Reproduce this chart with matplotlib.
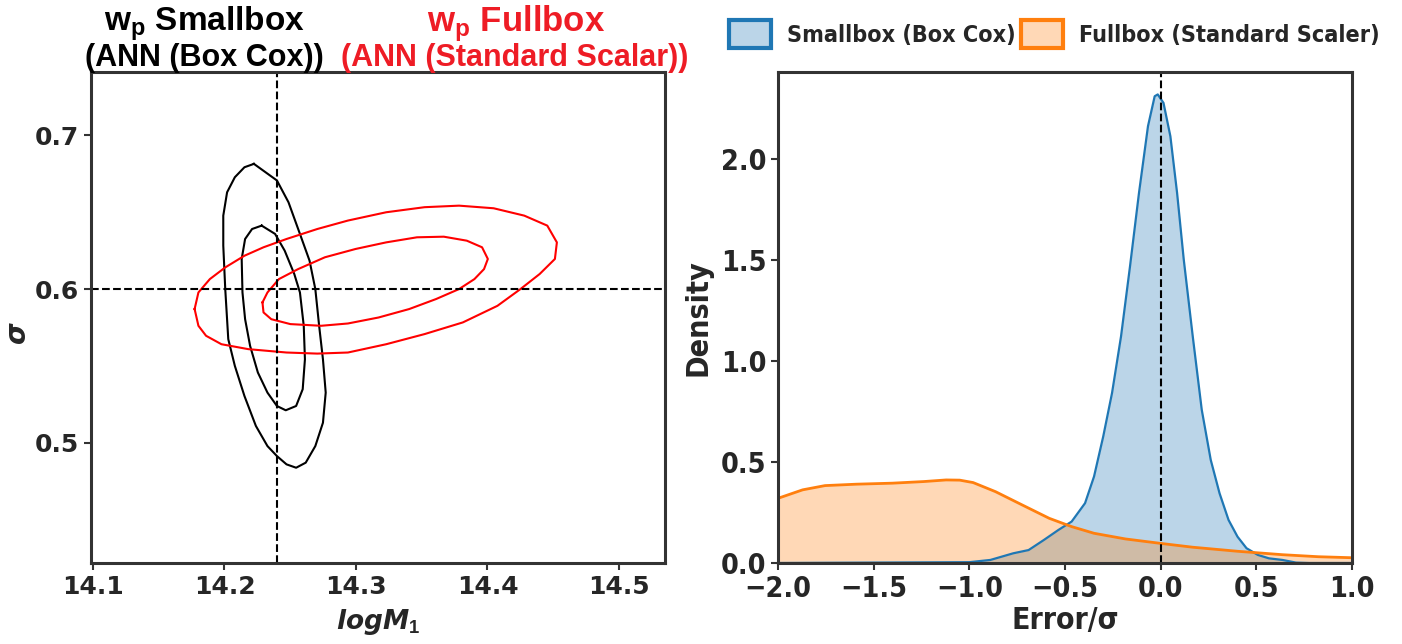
import os
import matplotlib
matplotlib.use("Agg")
import matplotlib.pyplot as plt
from matplotlib import font_manager
from matplotlib.patches import Patch
from matplotlib.textpath import TextPath

# 等高线轮廓 (logM1, sigma)，两个置信水平
small_outer_x = [14.2224, 14.2399, 14.2487, 14.2574, 14.2647, 14.2691, 14.2720, 14.2749, 14.2770,
                 14.2749, 14.2691, 14.2618, 14.2545, 14.2472, 14.2399, 14.2327, 14.2239, 14.2152,
                 14.2079, 14.2029, 14.2006, 14.1991, 14.1991, 14.2020, 14.2079, 14.2152, 14.2224]
small_outer_y = [0.6815, 0.6707, 0.6565, 0.6359, 0.6185, 0.6000, 0.5761, 0.5543, 0.5326,
                 0.5130, 0.4978, 0.4870, 0.4837, 0.4859, 0.4913, 0.4978, 0.5109, 0.5304,
                 0.5500, 0.5674, 0.6000, 0.6283, 0.6478, 0.6630, 0.6728, 0.6793, 0.6815]
small_inner_x = [14.2283, 14.2385, 14.2458, 14.2531, 14.2574, 14.2603, 14.2612, 14.2595, 14.2545,
                 14.2466, 14.2399, 14.2327, 14.2254, 14.2195, 14.2157, 14.2137, 14.2131, 14.2157,
                 14.2210, 14.2283]
small_inner_y = [0.6413, 0.6359, 0.6250, 0.6098, 0.5978, 0.5761, 0.5543, 0.5348, 0.5239,
                 0.5211, 0.5239, 0.5326, 0.5457, 0.5630, 0.5804, 0.5978, 0.6196, 0.6326,
                 0.6391, 0.6413]
full_outer_x = [14.1773, 14.1802, 14.1889, 14.2006, 14.2152, 14.2297, 14.2472, 14.2706, 14.2939,
                14.3230, 14.3522, 14.3784, 14.4047, 14.4280, 14.4455, 14.4528, 14.4513, 14.4397,
                14.4251, 14.4076, 14.3813, 14.3522, 14.3230, 14.2939, 14.2706, 14.2472, 14.2181,
                14.1977, 14.1860, 14.1802, 14.1773]
full_outer_y = [0.5870, 0.5978, 0.6065, 0.6141, 0.6217, 0.6272, 0.6326, 0.6391, 0.6446,
                0.6500, 0.6533, 0.6543, 0.6526, 0.6478, 0.6413, 0.6304, 0.6196, 0.6098,
                0.6000, 0.5891, 0.5783, 0.5707, 0.5641, 0.5587, 0.5580, 0.5587, 0.5609,
                0.5641, 0.5696, 0.5761, 0.5870]
full_inner_x = [14.2289, 14.2327, 14.2414, 14.2560, 14.2764, 14.2997, 14.3230, 14.3464, 14.3668,
                14.3843, 14.3959, 14.4003, 14.3974, 14.3901, 14.3784, 14.3609, 14.3405, 14.3172,
                14.2939, 14.2735, 14.2501, 14.2356, 14.2297, 14.2289]
full_inner_y = [0.5913, 0.5978, 0.6065, 0.6130, 0.6207, 0.6261, 0.6304, 0.6337, 0.6341,
                0.6315, 0.6272, 0.6196, 0.6130, 0.6065, 0.6000, 0.5935, 0.5870, 0.5815,
                0.5776, 0.5761, 0.5772, 0.5804, 0.5848, 0.5913]
true_logM1 = 14.24
true_sigma = 0.6

# Error/sigma 的密度分布
small_err = [-2.0, -1.5, -1.0, -0.89, -0.77, -0.69, -0.61, -0.535, -0.465, -0.395, -0.348, -0.30,
             -0.254, -0.207, -0.16, -0.113, -0.066, -0.031, -0.015, 0.015, 0.051, 0.086, 0.121,
             0.168, 0.215, 0.262, 0.308, 0.355, 0.402, 0.449, 0.508, 0.566, 0.637, 0.707, 0.777, 1.0]
small_den = [0.0, 0.002, 0.004, 0.015, 0.048, 0.064, 0.114, 0.163, 0.205, 0.296, 0.428, 0.626,
             0.841, 1.121, 1.468, 1.832, 2.162, 2.31, 2.319, 2.277, 2.112, 1.832, 1.501,
             1.121, 0.758, 0.510, 0.345, 0.213, 0.130, 0.073, 0.040, 0.023, 0.015, 0.002, 0.0, 0.0]
full_err = [-2.0, -1.871, -1.754, -1.59, -1.402, -1.238, -1.121, -1.05, -0.98, -0.863, -0.723,
            -0.582, -0.465, -0.348, -0.184, 0.0, 0.168, 0.402, 0.637, 0.824, 1.0]
full_den = [0.32, 0.362, 0.383, 0.390, 0.395, 0.403, 0.411, 0.41, 0.398, 0.353, 0.287,
            0.221, 0.180, 0.147, 0.119, 0.097, 0.078, 0.058, 0.041, 0.031, 0.026]

labels = ["Smallbox (Box Cox)", "Fullbox (Standard Scaler)"]

plt.rcParams['mathtext.fontset'] = 'custom'
plt.rcParams['mathtext.bf'] = 'Liberation Sans:bold'
plt.rcParams['mathtext.bfit'] = 'DejaVu Sans:bold:italic'


# 找一个窄体粗体字，找不到就用 DejaVu Sans Bold
def pick_narrow():
    found = []
    for f in font_manager.fontManager.ttflist:
        base = os.path.basename(f.fname).lower()
        w = f.weight if isinstance(f.weight, int) else (700 if 'bold' in str(f.weight) else 400)
        narrowish = 'cond' in base or 'narrow' in base or 'condensed' in str(f.stretch)
        if narrowish and w >= 600 and 'italic' not in base and 'oblique' not in base \
                and 'semicond' not in base and 'extra' not in base:
            found.append(f)
    for key in ['dejavu', 'liberation', 'noto', 'open', 'roboto', '']:
        for f in found:
            if key in os.path.basename(f.fname).lower():
                return font_manager.FontProperties(fname=f.fname)
    return font_manager.FontProperties(family='DejaVu Sans', weight='bold')


narrow = pick_narrow()


# 按像素宽度换算字号 (dpi=100)
def size_for_width(text, prop, width_px):
    p = prop.copy()
    p.set_size(100)
    w = TextPath((0, 0), text, prop=p).get_extents().width
    return 100 * (width_px * 72 / 100) / w


def narrow_at(size):
    p = narrow.copy()
    p.set_size(size)
    return p


TXT = '#262626'
SPINE = '#333333'

fig = plt.figure(figsize=(14.02, 6.44), dpi=100)
ax1 = fig.add_axes([0.0649, 0.1258, 0.4094, 0.7624])
ax2 = fig.add_axes([0.5549, 0.1258, 0.4094, 0.7624])

for ax in (ax1, ax2):
    for s in ax.spines.values():
        s.set_color(SPINE)
        s.set_linewidth(2.2)
    ax.tick_params(direction='out', length=5, width=1.5, color=SPINE, labelcolor=TXT)

# 左图: 等高线
ax1.plot(small_outer_x, small_outer_y, color='black', lw=1.5)
ax1.plot(small_inner_x, small_inner_y, color='black', lw=1.5)
ax1.plot(full_outer_x, full_outer_y, color='red', lw=1.5)
ax1.plot(full_inner_x, full_inner_y, color='red', lw=1.5)
ax1.axvline(true_logM1, color='black', ls='--', lw=1.5)
ax1.axhline(true_sigma, color='black', ls='--', lw=1.5)
ax1.set_xlim(14.0985, 14.535)
ax1.set_ylim(0.4217, 0.7413)
ax1.set_xticks([14.1, 14.2, 14.3, 14.4, 14.5])
ax1.set_yticks([0.5, 0.6, 0.7])
for lab in ax1.get_xticklabels() + ax1.get_yticklabels():
    lab.set_fontsize(18)
    lab.set_fontweight('bold')
ax1.set_xlabel(r'$\mathbfit{logM}_{\mathbf{1}}$', fontsize=19, color=TXT, labelpad=6)
ax1.set_ylabel('σ', fontsize=20, fontweight='bold', fontstyle='italic', color=TXT)
ax1.yaxis.set_label_coords(-0.105, 0.47)

fig.text(0.146, 0.963, r'$\mathbf{w_p}$ Smallbox', ha='center', va='center',
         family='Liberation Sans', weight='bold', fontsize=24, color='black')
fig.text(0.146, 0.910, '(ANN (Box Cox))', ha='center', va='center',
         family='Liberation Sans', weight='bold', fontsize=22, color='black')
fig.text(0.368, 0.963, r'$\mathbf{w_p}$ Fullbox', ha='center', va='center',
         family='Liberation Sans', weight='bold', fontsize=25, color='#ee1c25')
fig.text(0.367, 0.910, '(ANN (Standard Scalar))', ha='center', va='center',
         family='Liberation Sans', weight='bold', fontsize=22, color='#ee1c25')

# 右图: 误差密度
ax2.fill_between(small_err, small_den, color='#1f77b4', alpha=0.3, lw=0)
ax2.plot(small_err, small_den, color='#1f77b4', lw=1.6)
ax2.fill_between(full_err, full_den, color='#ff7f0e', alpha=0.3, lw=0)
ax2.plot(full_err, full_den, color='#ff7f0e', lw=2.0)
ax2.axvline(0.0, color='black', ls='--', lw=1.5)
ax2.set_xlim(-2.0, 1.0)
ax2.set_ylim(0, 2.43)
ax2.set_xticks([-2.0, -1.5, -1.0, -0.5, 0.0, 0.5, 1.0])
ax2.set_yticks([0.0, 0.5, 1.0, 1.5, 2.0])
tick_fp = narrow_at(size_for_width('0.0', narrow, 43))
for lab in ax2.get_xticklabels() + ax2.get_yticklabels():
    lab.set_fontproperties(tick_fp)
ax2.set_xlabel('Error/σ', color=TXT, labelpad=2,
               fontproperties=narrow_at(size_for_width('Error/σ', narrow, 104)))
ax2.set_ylabel('Density', color=TXT, labelpad=6,
               fontproperties=narrow_at(size_for_width('Density', narrow, 114)))

leg_size = size_for_width(labels[0], narrow, 226)
leg_px = leg_size * 100 / 72
handles = [Patch(facecolor=(0.122, 0.467, 0.706, 0.3), edgecolor='#1f77b4', lw=3),
           Patch(facecolor=(1.0, 0.498, 0.055, 0.3), edgecolor='#ff7f0e', lw=3)]
ax2.legend(handles, labels, loc='center', bbox_to_anchor=(0.752, 0.947),
           bbox_transform=fig.transFigure, ncol=2, frameon=False,
           prop=narrow_at(leg_size),
           handlelength=42 / leg_px, handleheight=35 / leg_px, handletextpad=16 / leg_px,
           columnspacing=6 / leg_px, borderaxespad=0, labelcolor=TXT)

fig.savefig('out.png', dpi=100)
